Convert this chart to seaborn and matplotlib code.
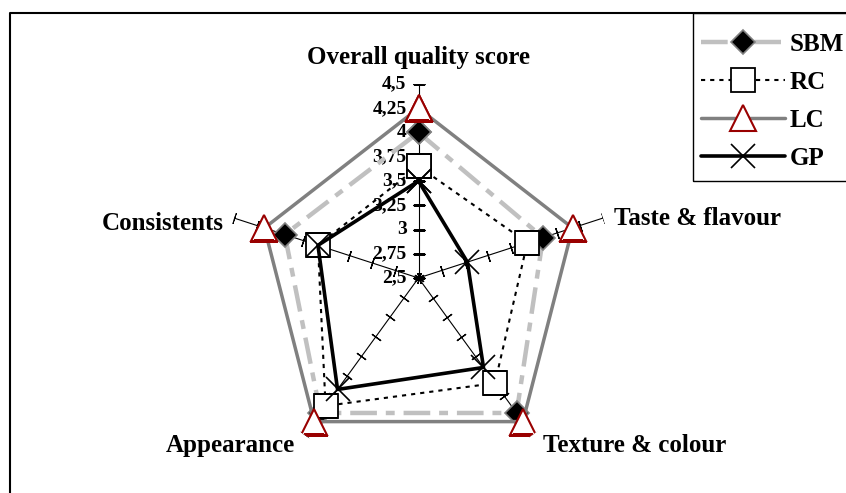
import numpy as np
import matplotlib
matplotlib.use("Agg")
import matplotlib.pyplot as plt
import seaborn as sns
from matplotlib.patches import Rectangle
from matplotlib.lines import Line2D

# ---- data ----
categories = ["Overall quality score", "Taste & flavour", "Texture & colour",
              "Appearance", "Consistents"]
series_names = ["SBM", "RC", "LC", "GP"]
sbm = [4.00, 3.85, 4.22, 4.22, 3.95]
rc = [3.65, 3.68, 3.84, 4.13, 3.59]
lc = [4.25, 4.17, 4.33, 4.33, 4.17]
gp = [3.50, 3.03, 3.64, 3.92, 3.59]
tick_values = [2.5, 2.75, 3, 3.25, 3.5, 3.75, 4, 4.25, 4.5]
tick_labels = ["2,5", "2,75", "3", "3,25", "3,5", "3,75", "4", "4,25", "4,5"]

sns.set_theme(style="white")
plt.rcParams["font.family"] = ["Liberation Serif", "DejaVu Serif"]
plt.rcParams["font.weight"] = "bold"
plt.rcParams["text.color"] = "black"

W, H = 846, 493
fig = plt.figure(figsize=(W / 100, H / 100), dpi=100)
cx, cy, R = 418.5, 278, 194
ax = fig.add_axes([(cx - R) / W, (H - cy - R) / H, 2 * R / W, 2 * R / H],
                  projection="polar")
ax.set_theta_offset(np.pi / 2)
ax.set_theta_direction(-1)
ax.set_ylim(tick_values[0], tick_values[-1])
ax.grid(False)
ax.spines["polar"].set_visible(False)
ax.set_xticks([])
ax.set_yticks([])
ax.patch.set_visible(False)

n = len(categories)
angles = np.arange(n) * 2 * np.pi / n

# radial axes with tick marks
for i, a in enumerate(angles):
    ax.plot([a, a], [tick_values[0], tick_values[-1]], color="black", lw=0.8, zorder=1)
    rot = 90 - np.degrees(a)
    ax.plot([a] * len(tick_values), tick_values, linestyle="none",
            marker=(2, 2, rot), markersize=8, mew=0.9, color="black", zorder=1)

# tick labels on top axis
for v, lab in zip(tick_values, tick_labels):
    ax.annotate(lab, xy=(0, v), xytext=(-12, 0), textcoords="offset pixels",
                ha="right", va="center", fontsize=14, fontweight="bold",
                color="black", annotation_clip=False)

# category labels
offsets = [(0, 26, "center"), (11, 0, "left"), (10, -11, "left"),
           (-9, -11, "right"), (-10, -5, "right")]
for a, lab, (dx, dy, ha) in zip(angles, categories, offsets):
    ax.annotate(lab, xy=(a, tick_values[-1]), xytext=(dx, dy),
                textcoords="offset pixels", ha=ha, va="center",
                fontsize=18, fontweight="bold", color="black",
                annotation_clip=False)

theta = np.append(angles, angles[0])

def closed(vals):
    return np.append(vals, vals[0])

styles = {
    "SBM": dict(color="#C0C0C0", lw=3.2, linestyle=(0, (6, 2, 2, 2)),
                marker="D", markersize=12, markerfacecolor="black",
                markeredgecolor="#808080", markeredgewidth=1.2),
    "RC": dict(color="black", lw=1.5, linestyle=(0, (2, 2.4)),
               marker="s", markersize=17, markerfacecolor="white",
               markeredgecolor="black", markeredgewidth=1.3),
    "LC": dict(color="#808080", lw=2.5, linestyle="-",
               marker="^", markersize=19, markerfacecolor="white",
               markeredgecolor="#990000", markeredgewidth=1.5),
    "GP": dict(color="black", lw=2.6, linestyle="-",
               marker="x", markersize=17, markeredgecolor="black",
               markeredgewidth=1.2),
}
data = {"SBM": sbm, "RC": rc, "LC": lc, "GP": gp}
handles = []
for k, name in enumerate(series_names):
    st = styles[name]
    sns.lineplot(x=theta, y=closed(data[name]), ax=ax, sort=False,
                 estimator=None, zorder=3 + k, **st)
    handles.append(Line2D([], [], **st))

ax.set_ylim(tick_values[0], tick_values[-1])
ax.set_xlabel("")
ax.set_ylabel("")

# legend
leg = fig.legend(handles, series_names, loc="upper left",
                 bbox_to_anchor=(701 / W, 1 - 33 / H), frameon=False,
                 borderpad=0, borderaxespad=0, handlelength=3.35,
                 handletextpad=0.2, labelspacing=0.6, numpoints=1,
                 prop=dict(family="Liberation Serif", weight="bold", size=18))
for t in leg.get_texts():
    t.set_color("black")

# chart frame and legend frame
fig.add_artist(Line2D([10 / W, 10 / W, 1.0], [0.0, 1 - 13 / H, 1 - 13 / H],
                      transform=fig.transFigure, color="black", lw=1.5))
fig.add_artist(Rectangle((693 / W, 1 - 181 / H), 0.5, (181 - 13) / H,
                         transform=fig.transFigure, fill=False,
                         edgecolor="black", lw=1.0))

fig.savefig("out.png", dpi=100)
